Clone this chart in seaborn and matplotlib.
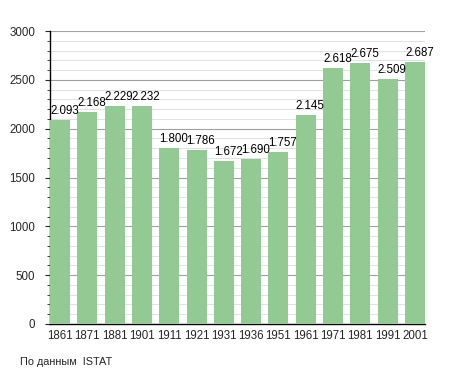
import matplotlib
matplotlib.use("Agg")
import matplotlib.pyplot as plt
import seaborn as sns
import pandas as pd
from matplotlib.ticker import MultipleLocator

years = ["1861", "1871", "1881", "1901", "1911", "1921", "1931", "1936",
         "1951", "1961", "1971", "1981", "1991", "2001"]
population = [2093, 2168, 2229, 2232, 1800, 1786, 1672, 1690,
              1757, 2145, 2618, 2675, 2509, 2687]

df = pd.DataFrame({"year": years, "pop": population})

sns.set_style("white")
plt.rcParams['font.family'] = ['Liberation Sans', 'DejaVu Sans']

fig = plt.figure(figsize=(4.55, 3.73), dpi=100)
ax = fig.add_axes([50/455, 49/373, 375/455, 293/373])

w = 0.73
sns.barplot(data=df, x="year", y="pop", color="#93ca93", saturation=1,
            width=w, ax=ax, zorder=3, edgecolor="none", linewidth=0)

ax.set_xlim(-w/2, len(years) - 1 + w/2)
ax.set_ylim(0, 3000)
ax.yaxis.set_major_locator(MultipleLocator(500))
ax.yaxis.set_minor_locator(MultipleLocator(100))
ax.grid(axis="y", which="major", color="#a0a0a0", lw=0.8, zorder=0)
ax.grid(axis="y", which="minor", color="#dddddd", lw=0.6, zorder=0)
ax.set_axisbelow(True)

for s in ["top", "right"]:
    ax.spines[s].set_visible(False)
for s in ["left", "bottom"]:
    ax.spines[s].set_color("black")
    ax.spines[s].set_linewidth(1.0)

ax.tick_params(axis="y", which="major", left=True, length=3.5, width=0.8,
               labelsize=8.3, pad=7)
ax.tick_params(axis="y", which="minor", left=True, length=2, width=0.6)
ax.tick_params(axis="x", bottom=False, labelsize=8.3, pad=1)
ax.set_xlabel("")
ax.set_ylabel("")

for i, v in enumerate(population):
    lbl = f"{v:,}".replace(",", ".")
    ax.text(i - w/2, v + 30, lbl, ha="left", va="bottom", fontsize=8.3,
            color="black", zorder=5)

fig.text(20/455, 1 - 362/373, "По данным  ISTAT", fontsize=7.8, ha="left",
         va="center")

fig.savefig("out.png", dpi=100)
